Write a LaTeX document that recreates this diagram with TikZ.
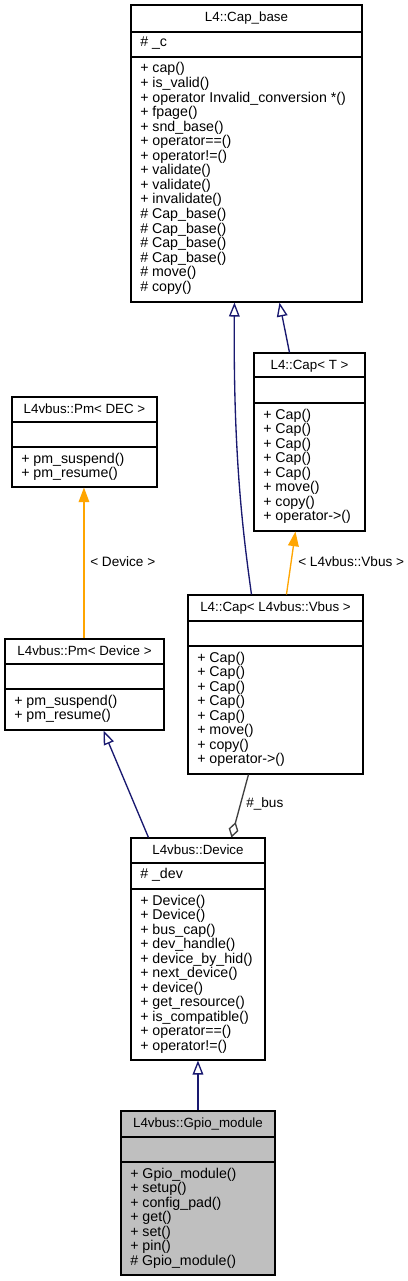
\documentclass[tikz,border=0pt]{standalone}
\usepackage{fontspec}
\setmainfont{Liberation Sans}
\usetikzlibrary{arrows.meta,fit,calc}
\definecolor{navy}{HTML}{191970}
\definecolor{edgeorange}{HTML}{FFA500}
\definecolor{aggray}{HTML}{404040}
\definecolor{gpiofill}{HTML}{BFBFBF}
\tikzset{
 classbox/.style={draw=black, line width=0.8pt, inner sep=0pt, minimum size=0pt},
 divider/.style={draw=black, line width=0.8pt},
 txt/.style={inner sep=0pt, font=\fontsize{10.65}{12}\selectfont},
 ttl/.style={inner sep=0pt, font=\fontsize{10}{12}\selectfont},
 lbl/.style={inner sep=0pt, font=\fontsize{10.2}{12}\selectfont},
 inh/.style={draw=navy, line width=1pt, {Triangle[open,length=10.5pt,width=8pt]}-},
 tmpl/.style={draw=edgeorange, line width=1pt, {Triangle[length=11pt,width=8pt]}-},
 agg/.style={draw=aggray, line width=1pt, {Diamond[open,length=12pt,width=7.5pt]}-},
}
% name, L, T, R, B, D1, D2, fill
\newcommand\umlclass[8]{%
 \node[classbox, fill=#8, fit={(#2,#3)(#4,#5)}] (#1) {};
 \draw[divider] (#2,#6) -- (#4,#6);
 \draw[divider] (#2,#7) -- (#4,#7);
}
% name, L, T, R, title
\newcommand\umltitle[5]{%
 \node[ttl, anchor=base] (#1-title) at ({(#2+#4)/2},{#3+16.5}) {#5};
}
% name, x, first baseline, list
\newcommand\umllines[4]{%
 \foreach \mline [count=\i from 0] in {#4}
   \node[txt, anchor=base west] (#1-\i) at ({#2},{#3+\i*14.55}) {\mline};
}
\begin{document}
\begin{tikzpicture}[x=0.75pt,y=-0.75pt]
\fill[white] (0,0) rectangle (407,1281);
\useasboundingbox (0,0) rectangle (407,1281);

% L4::Cap_base
\umlclass{capbase}{131}{5}{362}{302}{32}{57}{white}
\umltitle{capbase}{131}{5}{362}{L4::Cap\_base}
\node[txt, anchor=base west] (capbase-attr) at (140,47) {\# \_c};
\umllines{capbase}{140}{73}{+ cap(),+ is\_valid(),+ operator Invalid\_conversion *(),+ fpage(),+ snd\_base(),+ operator==(),+ operator!=(),+ validate(),+ validate(),+ invalidate(),\# Cap\_base(),\# Cap\_base(),\# Cap\_base(),\# Cap\_base(),\# move(),\# copy()}

% L4::Cap< T >
\umlclass{capT}{254}{353}{365}{531}{377}{403}{white}
\umltitle{capT}{254}{353}{365}{L4::Cap< T >}
\umllines{capT}{263}{419}{+ Cap(),+ Cap(),+ Cap(),+ Cap(),+ Cap(),+ move(),+ copy(),+ operator->()}

% L4vbus::Pm< DEC >
\umlclass{pmdec}{12}{397}{157}{487}{422}{447}{white}
\umltitle{pmdec}{12}{397}{157}{L4vbus::Pm< DEC >}
\umllines{pmdec}{21}{463}{+ pm\_suspend(),+ pm\_resume()}

% L4::Cap< L4vbus::Vbus >
\umlclass{capvbus}{188}{595}{363}{774}{621}{646}{white}
\umltitle{capvbus}{188}{595}{363}{L4::Cap< L4vbus::Vbus >}
\umllines{capvbus}{197}{662}{+ Cap(),+ Cap(),+ Cap(),+ Cap(),+ Cap(),+ move(),+ copy(),+ operator->()}

% L4vbus::Pm< Device >
\umlclass{pmdev}{5}{639}{164}{730}{664}{689}{white}
\umltitle{pmdev}{5}{639}{164}{L4vbus::Pm< Device >}
\umllines{pmdev}{14}{705}{+ pm\_suspend(),+ pm\_resume()}

% L4vbus::Device
\umlclass{dev}{131}{838}{265}{1060}{863}{889}{white}
\umltitle{dev}{131}{838}{265}{L4vbus::Device}
\node[txt, anchor=base west] (dev-attr) at (140,878) {\# \_dev};
\umllines{dev}{140}{905}{+ Device(),+ Device(),+ bus\_cap(),+ dev\_handle(),+ device\_by\_hid(),+ next\_device(),+ device(),+ get\_resource(),+ is\_compatible(),+ operator==(),+ operator!=()}

% L4vbus::Gpio_module
\umlclass{gpio}{121}{1111}{275}{1275}{1137}{1162}{gpiofill}
\umltitle{gpio}{121}{1111}{275}{L4vbus::Gpio\_module}
\umllines{gpio}{130}{1178}{+ Gpio\_module(),+ setup(),+ config\_pad(),+ get(),+ set(),+ pin(),\# Gpio\_module()}

% connectors
\draw[inh] ($(capbase.south west)+(104,0)$) .. controls (233,460) and (244,540) .. ($(capvbus.north west)+(64,0)$);
\draw[inh] ($(capbase.south west)+(149,0)$) -- ($(capT.north west)+(36,0)$);
\draw[tmpl] ($(pmdec.south west)+(72.5,0)$) -- ($(pmdev.north west)+(79.5,0)$);
\node[lbl, anchor=base west] (lbl-device) at (90,566) {< Device >};
\draw[tmpl] ($(capT.south west)+(42,0)$) -- ($(capvbus.north west)+(99,0)$);
\node[lbl, anchor=base west] (lbl-vbus) at (298,566) {< L4vbus::Vbus >};
\draw[inh] ($(pmdev.south west)+(99,0)$) -- ($(dev.north west)+(18,0)$);
\draw[agg] ($(dev.north west)+(101,0)$) -- ($(capvbus.south west)+(61,0)$);
\node[lbl, anchor=base west] (lbl-bus) at (246,807) {\#\_bus};
\draw[inh] ($(dev.south west)+(67.5,0)$) -- ($(gpio.north west)+(77.5,0)$);
\end{tikzpicture}
\end{document}
